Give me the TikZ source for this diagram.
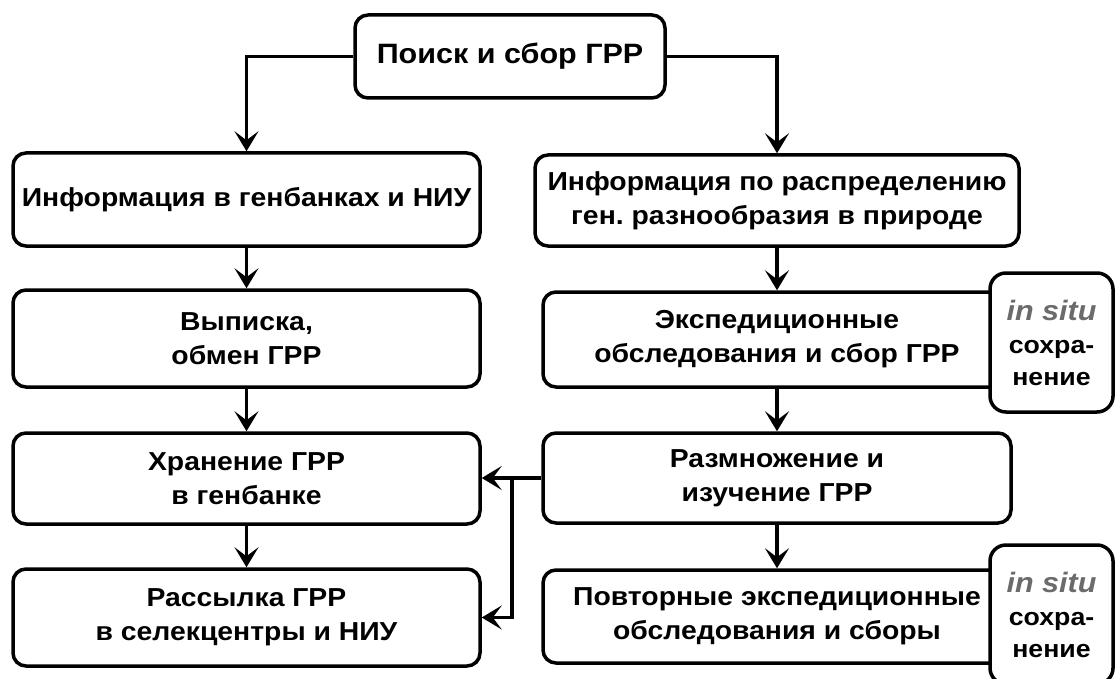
\documentclass[tikz,border=0pt]{standalone}
\usepackage{fontspec}
\setmainfont{Liberation Sans}
\newfontfamily\wide{Liberation Sans}[FakeStretch=1.09]
\usetikzlibrary{arrows.meta}
\definecolor{situgray}{HTML}{6B6B6B}
\frenchspacing
\tikzset{
  box/.style={draw, line width=3.5pt, rounded corners=13pt, fill=white, align=center,
    inner sep=0pt, font=\wide\bfseries\fontsize{26}{34}\selectfont},
  situbox/.style={box, rounded corners=16pt, font=\wide\bfseries\fontsize{24.5}{32}\selectfont},
  arr/.style={line width=3.5pt, -{Stealth[length=20pt, width=24pt, inset=9pt]}},
}
\begin{document}
\begin{tikzpicture}[x=1pt,y=-1pt]
\useasboundingbox (0,0) rectangle (1115,679);
\clip (0,0) rectangle (1115,679);
\fill[white] (0,0) rectangle (1115,679);
\node[box, minimum width=310pt, minimum height=83pt, font=\wide\bfseries\fontsize{28}{34}\selectfont] (top) at (510,56.5) {Поиск и сбор ГРР};
\node[box, minimum width=467pt, minimum height=93pt] (L1) at (246.5,199.5) {Информация в генбанках и НИУ};
\node[box, minimum width=467pt, minimum height=97pt] (L2) at (246.5,338.5) {Выписка,\\обмен ГРР};
\node[box, minimum width=467pt, minimum height=91pt] (L3) at (246.5,478.5) {Хранение ГРР\\в генбанке};
\node[box, minimum width=467pt, minimum height=97pt] (L4) at (246.5,617.5) {Рассылка ГРР\\в селекцентры и НИУ};
\node[box, minimum width=484pt, minimum height=91pt] (R1) at (777,200.5) {Информация по распределению\\ген.\ разнообразия в природе};
\node[box, minimum width=468pt, minimum height=95pt] (R2) at (777,339.5) {Экспедиционные\\обследования и сбор ГРР};
\node[box, minimum width=468pt, minimum height=90pt] (R3) at (777,478) {Размножение и\\изучение ГРР};
\node[box, minimum width=468pt, minimum height=93pt] (R4) at (777,616.5) {Повторные экспедиционные\\обследования и сборы};
\node[situbox, minimum width=123pt, minimum height=139pt] (S1) at (1051.5,342.5)
  {{\fontsize{28}{34}\selectfont\itshape\color{situgray}in situ}\\[1pt]сохра-\\нение};
\node[situbox, minimum width=123pt, minimum height=139pt] (S2) at (1051.5,614.5)
  {{\fontsize{28}{34}\selectfont\itshape\color{situgray}in situ}\\[1pt]сохра-\\нение};
\draw[arr] (top.west) -| (L1.north);
\draw[arr] (top.east) -| (R1.north);
\draw[arr] (L1.south) -- (L2.north);
\draw[arr] (L2.south) -- (L3.north);
\draw[arr] (L3.south) -- (L4.north);
\draw[arr] (R1.south) -- (R2.north);
\draw[arr] (R2.south) -- (R3.north);
\draw[arr] (R3.south) -- (R4.north);
\draw[arr] (R3.west) -- (R3.west -| L3.east);
\coordinate (br) at (512,478);
\draw[arr] (br) |- (L4.east);
\end{tikzpicture}
\end{document}
